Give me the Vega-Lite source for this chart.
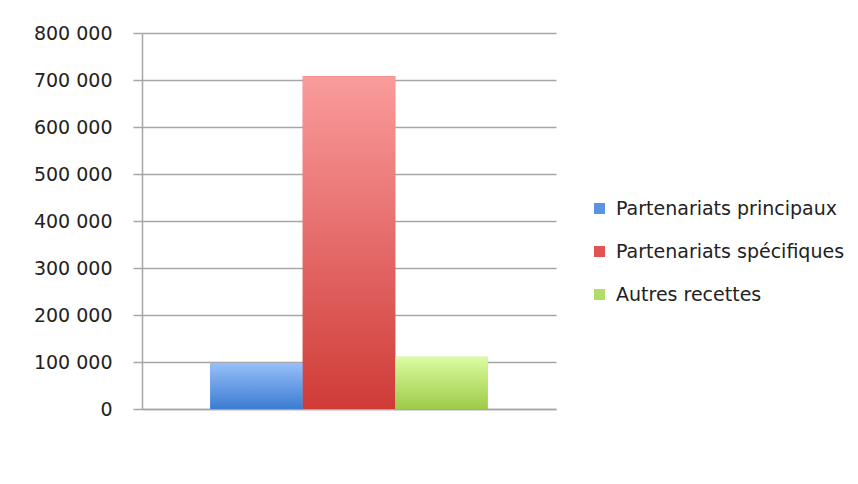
{
  "$schema": "https://vega.github.io/schema/vega-lite/v6.json",
  "width": 414,
  "height": 376,
  "autosize": {"type": "none"},
  "padding": {"left": 142, "top": 33, "right": 302, "bottom": 75},
  "background": "white",
  "data": {
    "values": [
      {"categorie": "Recettes", "serie": "Partenariats principaux", "montant": 97000},
      {"categorie": "Recettes", "serie": "Partenariats spécifiques", "montant": 708000},
      {"categorie": "Recettes", "serie": "Autres recettes", "montant": 111000}
    ]
  },
  "encoding": {
    "x": {
      "field": "categorie",
      "type": "nominal",
      "scale": {"paddingOuter": 0.246, "paddingInner": 0},
      "axis": {"title": null, "labels": false, "ticks": false, "domain": true, "domainColor": "#a6a6a6", "domainWidth": 1.5, "grid": false}
    },
    "xOffset": {
      "field": "serie",
      "type": "nominal",
      "sort": ["Partenariats principaux", "Partenariats spécifiques", "Autres recettes"],
      "scale": {"paddingInner": 0, "paddingOuter": 0}
    },
    "y": {
      "field": "montant",
      "type": "quantitative",
      "scale": {"domain": [0, 800000], "nice": false},
      "axis": {
        "title": null,
        "values": [0, 100000, 200000, 300000, 400000, 500000, 600000, 700000, 800000],
        "labelExpr": "replace(format(datum.value, ','), regexp(',', 'g'), ' ')",
        "labelFont": "DejaVu Sans",
        "labelFontSize": 19,
        "labelColor": "#222222",
        "labelPadding": 21,
        "tickSize": 9,
        "tickColor": "#a6a6a6",
        "tickWidth": 1.5,
        "domainColor": "#a6a6a6",
        "domainWidth": 1.5,
        "grid": true,
        "gridColor": "#a6a6a6",
        "gridWidth": 1.5
      }
    }
  },
  "layer": [
    {
      "mark": {"type": "bar"},
      "encoding": {
        "color": {
          "field": "serie",
          "type": "nominal",
          "sort": ["Partenariats principaux", "Partenariats spécifiques", "Autres recettes"],
          "scale": {
            "domain": ["Partenariats principaux", "Partenariats spécifiques", "Autres recettes"],
            "range": ["#5b93e2", "#e05552", "#b0dc6a"]
          },
          "legend": {
            "title": null,
            "orient": "none",
            "legendX": 448,
            "legendY": 166,
            "symbolType": "square",
            "symbolSize": 121,
            "symbolStrokeWidth": 0,
            "labelFont": "DejaVu Sans",
            "labelFontSize": 19,
            "labelColor": "#222222",
            "labelOffset": 7,
            "labelLimit": 0,
            "rowPadding": 23,
            "padding": 0
          }
        }
      }
    },
    {
      "transform": [{"filter": "datum.serie === 'Partenariats principaux'"}],
      "mark": {
        "type": "bar",
        "color": {
          "gradient": "linear", "x1": 0, "y1": 0, "x2": 0, "y2": 1,
          "stops": [{"offset": 0, "color": "#96bff9"}, {"offset": 1, "color": "#3b7cd1"}]
        }
      }
    },
    {
      "transform": [{"filter": "datum.serie === 'Partenariats spécifiques'"}],
      "mark": {
        "type": "bar",
        "color": {
          "gradient": "linear", "x1": 0, "y1": 0, "x2": 0, "y2": 1,
          "stops": [{"offset": 0, "color": "#fa9c9c"}, {"offset": 1, "color": "#cf3b37"}]
        }
      }
    },
    {
      "transform": [{"filter": "datum.serie === 'Autres recettes'"}],
      "mark": {
        "type": "bar",
        "color": {
          "gradient": "linear", "x1": 0, "y1": 0, "x2": 0, "y2": 1,
          "stops": [{"offset": 0, "color": "#dcfca2"}, {"offset": 1, "color": "#9dcb48"}]
        }
      }
    }
  ],
  "config": {
    "view": {"stroke": null}
  }
}
